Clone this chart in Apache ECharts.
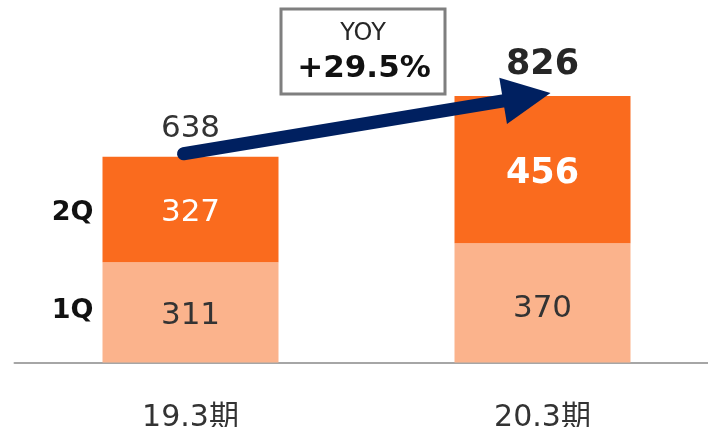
<!DOCTYPE html>
<html><head><meta charset="utf-8">
<script src="https://cdn.jsdelivr.net/npm/echarts@6/dist/echarts.min.js"></script>
<style>html,body{margin:0;padding:0;background:#fff}#c{width:708px;height:427px}</style>
</head><body><div id="c"></div>
<script>
const categories = ['19.3期', '20.3期'];
const seriesNames = ['1Q', '2Q'];
const q1 = [311, 370];
const q2 = [327, 456];
const totals = [638, 826];
const yoyTitle = 'YOY';
const yoyValue = '+29.5%';

const FONT = '"DejaVu Sans", "Noto Sans CJK JP", sans-serif';
const C1 = '#FBB38C', C2 = '#FA6B1E', NAVY = '#002060', TXT = '#333333';

const chart = echarts.init(document.getElementById('c'), null, {renderer: 'canvas'});
const option = {
  animation: false,
  grid: {left: 14.5, right: -10.5, top: 40, bottom: 64.5, outerBoundsMode: 'none', containLabel: false},
  xAxis: {
    type: 'category', data: categories,
    axisLine: {lineStyle: {color: '#A6A6A6', width: 2}},
    axisTick: {show: false},
    axisLabel: {fontFamily: FONT, fontSize: 30, color: TXT, margin: 41}
  },
  yAxis: {type: 'value', min: 0, max: 1000, show: false, splitLine: {show: false}},
  series: [
    {
      name: seriesNames[0], type: 'bar', stack: 'a', barWidth: 176,
      itemStyle: {color: C1},
      data: q1.map((v, i) => i === 1 ? {value: v, label: {offset: [0, 6]}} : {value: v}),
      label: {show: true, position: 'inside', fontFamily: FONT, fontSize: 31, color: TXT, offset: [0, 4]}
    },
    {
      name: seriesNames[1], type: 'bar', stack: 'a', barWidth: 176,
      itemStyle: {color: C2},
      data: q2.map((v, i) => i === 1
        ? {value: v, label: {fontWeight: 'bold', fontSize: 35, offset: [0, 4]}}
        : {value: v, label: {offset: [0, 3]}}),
      label: {show: true, position: 'inside', fontFamily: FONT, fontSize: 31, color: '#fff'}
    },
    {
      name: 'total', type: 'bar', stack: 'a', barWidth: 176,
      itemStyle: {color: 'transparent'},
      data: totals.map((t, i) => ({
        value: 0,
        label: i === 1
          ? {formatter: String(t), fontWeight: 'bold', fontSize: 35, color: '#262626', distance: 14}
          : {formatter: String(t), fontSize: 31, color: TXT, distance: 12}
      })),
      label: {show: true, position: 'top', fontFamily: FONT}
    }
  ]
};
chart.setOption(option);

// annotations derived from data positions
const p0 = chart.convertToPixel({gridIndex: 0}, [0, totals[0]]);
const p1 = chart.convertToPixel({gridIndex: 0}, [1, totals[1]]);
const start = [p0[0] - 7, p0[1] - 3];
const tip = [p1[0] + 8, p1[1] - 3];
const dx = tip[0] - start[0], dy = tip[1] - start[1];
const len = Math.sqrt(dx * dx + dy * dy);
const ux = dx / len, uy = dy / len, nx = -uy, ny = ux;
const headLen = 48, headHalf = 23.5;
const base = [tip[0] - ux * headLen, tip[1] - uy * headLen];
const lineEnd = [tip[0] - ux * (headLen - 4), tip[1] - uy * (headLen - 4)];

const half = 88;
const graphics = [
  {type: 'line', shape: {x1: start[0], y1: start[1], x2: lineEnd[0], y2: lineEnd[1]},
   style: {stroke: NAVY, lineWidth: 13, lineCap: 'round'}, z: 100},
  {type: 'polygon', shape: {points: [tip, [base[0] + nx * headHalf, base[1] + ny * headHalf], [base[0] - nx * headHalf, base[1] - ny * headHalf]]},
   style: {fill: NAVY}, z: 100},
  {type: 'rect', shape: {x: 281, y: 9, width: 164, height: 85},
   style: {fill: '#fff', stroke: '#7F7F7F', lineWidth: 3}, z: 90},
  {type: 'text', x: 363, y: 34, style: {text: yoyTitle, font: '24px ' + FONT, fill: '#262626', align: 'center', verticalAlign: 'middle'}, z: 95},
  {type: 'text', x: 364, y: 69, style: {text: yoyValue, font: 'bold 31px ' + FONT, fill: '#111', align: 'center', verticalAlign: 'middle'}, z: 95}
];
const pBase = chart.convertToPixel({gridIndex: 0}, [0, 0]);
const pq1 = chart.convertToPixel({gridIndex: 0}, [0, q1[0]]);
const pTop = chart.convertToPixel({gridIndex: 0}, [0, q1[0] + q2[0]]);
const leftX = pBase[0] - half - 9;
graphics.push({type: 'text', x: leftX, y: (pBase[1] + pq1[1]) / 2 - 1,
  style: {text: seriesNames[0], font: 'bold 27px ' + FONT, fill: '#111', align: 'right', verticalAlign: 'middle'}, z: 95});
graphics.push({type: 'text', x: leftX, y: (pq1[1] + pTop[1]) / 2 + 4,
  style: {text: seriesNames[1], font: 'bold 27px ' + FONT, fill: '#111', align: 'right', verticalAlign: 'middle'}, z: 95});
chart.setOption({graphic: graphics});
</script></body></html>
